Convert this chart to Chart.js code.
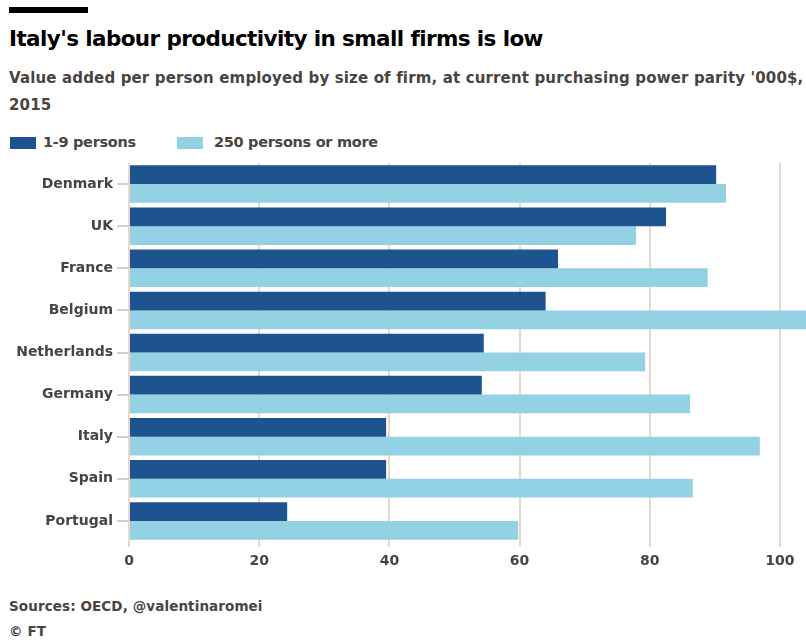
<!DOCTYPE html>
<html>
<head>
<meta charset="utf-8">
<script src="https://cdn.jsdelivr.net/npm/chart.js@4/dist/chart.umd.min.js"></script>
<style>
  html, body { margin: 0; padding: 0; background: #fff; }
  body { width: 806px; height: 642px; position: relative; overflow: hidden;
         font-family: "DejaVu Sans", sans-serif; font-weight: bold; }
  .rule { position: absolute; left: 9px; top: 7px; width: 79px; height: 6px; background: #000; }
  .title { position: absolute; left: 9px; top: 26px; font-size: 21.5px; color: #000; letter-spacing: -0.6px; white-space: nowrap; }
  .subtitle { position: absolute; left: 9px; top: 65px; font-size: 15px; line-height: 27px; color: #4a4441; letter-spacing: 0.15px; white-space: nowrap; }
  .legend { position: absolute; top: 134px; left: 10px; font-size: 14.5px; color: #4a4441; letter-spacing: -0.3px; }
  .legend span { position: absolute; top: 0; white-space: nowrap; }
  .swatch { position: absolute; top: 3px; width: 26px; height: 12px; }
  .footer { position: absolute; left: 9px; top: 594px; font-size: 13.5px; line-height: 25px; color: #4a4441; letter-spacing: 0.1px; }
  #wrap { position: absolute; left: 0; top: 150px; width: 806px; height: 430px; }
</style>
</head>
<body>
<div class="rule"></div>
<div class="title">Italy's labour productivity in small firms is low</div>
<div class="subtitle">Value added per person employed by size of firm, at current purchasing power parity '000$,<br>2015</div>
<div class="legend">
  <div class="swatch" style="left:0;background:#1d5490"></div><span style="left:33px">1-9 persons</span>
  <div class="swatch" style="left:167px;background:#93d1e4"></div><span style="left:204px">250 persons or more</span>
</div>
<div id="wrap"><canvas id="chart"></canvas></div>
<div class="footer">Sources: OECD, @valentinaromei<br>© FT</div>

<script>
const countries = ["Denmark", "UK", "France", "Belgium", "Netherlands", "Germany", "Italy", "Spain", "Portugal"];
const small = [90.2, 82.5, 65.9, 64.0, 54.5, 54.2, 39.5, 39.5, 24.3];
const large = [91.7, 77.9, 88.9, 107, 79.3, 86.2, 96.9, 86.6, 59.8];
const xTicks = [0, 20, 40, 60, 80, 100];

const labelFont = { family: "DejaVu Sans", size: 14, weight: "bold" };

new Chart(document.getElementById("chart"), {
  type: "bar",
  data: {
    labels: countries,
    datasets: [
      { label: "1-9 persons", data: small, backgroundColor: "#1d5490" },
      { label: "250 persons or more", data: large, backgroundColor: "#93d1e4" },
    ],
  },
  options: {
    indexAxis: "y",
    responsive: true,
    maintainAspectRatio: false,
    animation: false,
    layout: { padding: { top: 13, right: 0, left: 0, bottom: 0 } },
    datasets: { bar: { categoryPercentage: 0.89, barPercentage: 1.0, borderWidth: 0 } },
    plugins: { legend: { display: false }, tooltip: { enabled: false } },
    scales: {
      x: {
        min: 0,
        max: 104,
        afterFit: (scale) => { scale.height = 38; },
        afterBuildTicks: (scale) => { scale.ticks = xTicks.map((v) => ({ value: v })); },
        border: { display: false },
        grid: { color: "#e8d7ca", lineWidth: 2, tickLength: 5, drawTicks: true },
        ticks: { color: "#4a4441", font: labelFont, padding: 6, maxRotation: 0 },
      },
      y: {
        afterFit: (scale) => { scale.width = 129; },
        border: { display: false },
        grid: { drawOnChartArea: false, offset: false, tickLength: 12, color: "#d8cec6", lineWidth: 2 },
        ticks: { color: "#4a4441", font: labelFont, padding: 4 },
      },
    },
  },
});
</script>
</body>
</html>
